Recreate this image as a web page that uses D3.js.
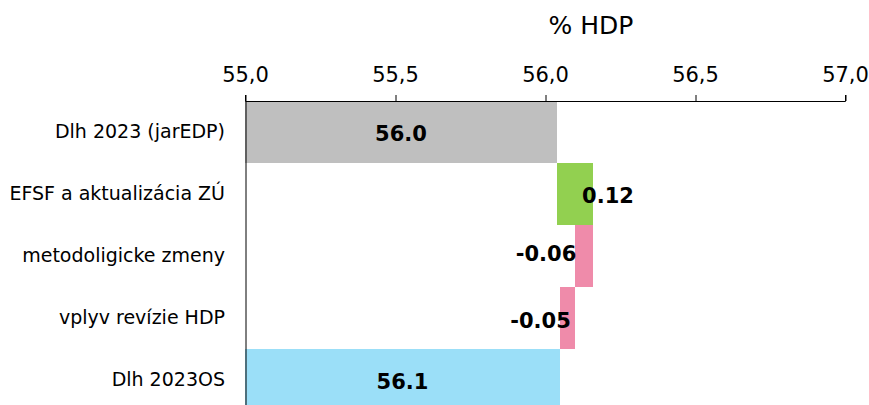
<!DOCTYPE html>
<html>
<head>
<meta charset="utf-8">
<script src="https://cdn.jsdelivr.net/npm/d3@7"></script>
<style>
  html, body { margin: 0; padding: 0; background: #fff; }
  svg { display: block; font-family: "DejaVu Sans", Verdana, sans-serif; }
</style>
</head>
<body>
<svg id="chart" width="869" height="405"></svg>
<script>
// ---- data ----
const categories = ["Dlh 2023 (jarEDP)", "EFSF a aktualizácia ZÚ", "metodoligicke zmeny", "vplyv revízie HDP", "Dlh 2023OS"];
const startValue = 56.04;
const changes = [0.12, -0.06, -0.05];
const endValue = 56.05;
const valueLabels = ["56.0", "0.12", "-0.06", "-0.05", "56.1"];
const tickValues = [55.0, 55.5, 56.0, 56.5, 57.0];
const axisTitle = "% HDP";

// ---- layout / style ----
const colors = ["#BFBFBF", "#92D050", "#EF8BAA", "#EF8BAA", "#9BDFF8"];
const labelDx = [0, 33, -38, -27, 0]; // label offset from bar centre
const labelDy = [9, 9, 5, 10, 9];

// build waterfall segments
const segs = [];
segs.push({ cat: categories[0], x0: 55, x1: startValue });
let run = startValue;
changes.forEach((c, i) => {
  const a = run, b = run + c;
  segs.push({ cat: categories[i + 1], x0: Math.min(a, b), x1: Math.max(a, b) });
  run = b;
});
segs.push({ cat: categories[4], x0: 55, x1: endValue });

const svg = d3.select("#chart");
const x = d3.scaleLinear().domain([55, 57]).range([245, 845]);
const y = d3.scaleBand().domain(categories).range([101, 411]).padding(0);

// bars
svg.append("g").selectAll("rect").data(segs).join("rect")
  .attr("x", d => x(d.x0))
  .attr("y", d => y(d.cat))
  .attr("width", d => x(d.x1) - x(d.x0))
  .attr("height", y.bandwidth())
  .attr("fill", (d, i) => colors[i]);

// value labels
svg.append("g").selectAll("text").data(segs).join("text")
  .attr("x", (d, i) => (x(d.x0) + x(d.x1)) / 2 + labelDx[i])
  .attr("y", (d, i) => y(d.cat) + y.bandwidth() / 2 + labelDy[i])
  .attr("text-anchor", "middle")
  .attr("font-size", 21)
  .attr("font-weight", "bold")
  .attr("fill", "#000")
  .text((d, i) => valueLabels[i]);

// top axis
const xAxis = d3.axisTop(x).tickValues(tickValues).tickSize(6).tickPadding(13)
  .tickFormat(d => d3.format(".1f")(d).replace(".", ","));
const gx = svg.append("g").attr("transform", "translate(0,101)").call(xAxis);
gx.select(".domain").attr("d", "M245.5,-6V0.5H845.5V-6").attr("stroke", "#000");
gx.selectAll(".tick line").attr("stroke", "#000").attr("transform", "translate(0.5,0)");
gx.selectAll(".tick text").attr("font-size", 21).attr("font-family", "DejaVu Sans, sans-serif").attr("fill", "#000");

// left axis
const yAxis = d3.axisLeft(y).tickSize(0).tickPadding(20);
const gy = svg.append("g").attr("transform", "translate(245,0)").call(yAxis);
gy.select(".domain").attr("stroke", "#000").attr("transform", "translate(0.5,0)");
gy.selectAll(".tick text").attr("font-size", 19).attr("font-family", "DejaVu Sans, sans-serif").attr("fill", "#000");

// title
svg.append("text")
  .attr("x", 591).attr("y", 34)
  .attr("text-anchor", "middle")
  .attr("font-size", 25)
  .attr("fill", "#000")
  .text(axisTitle);
</script>
</body>
</html>
